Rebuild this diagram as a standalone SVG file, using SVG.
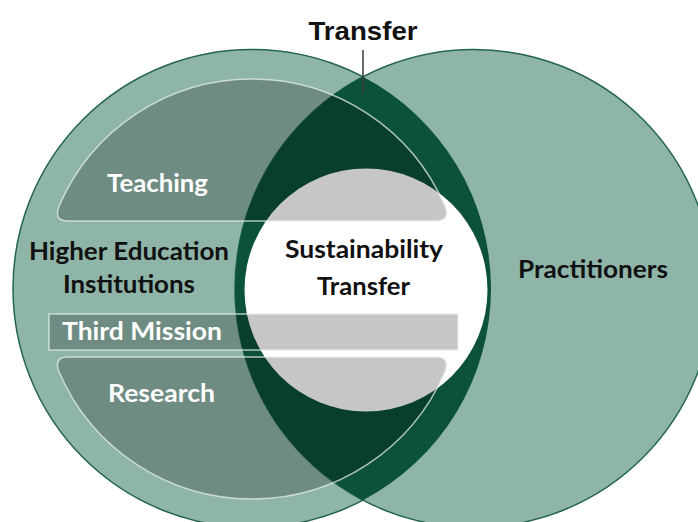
<svg xmlns="http://www.w3.org/2000/svg" width="698" height="522" viewBox="0 0 698 522">
<style>
.circ{fill:#8fb5a9;stroke:#24654f;stroke-width:1.5}
.shade{fill:#000;fill-opacity:0.225;stroke:none}
.edge{fill:none;stroke:#e6eeeb;stroke-opacity:0.75;stroke-width:1.5}
.lbl{font-family:Lato,"Open Sans","Liberation Sans",sans-serif;font-weight:bold;font-size:25px;text-anchor:middle}
.dark{fill:#111}
.light{fill:#fff}
</style>
<rect width="698" height="522" fill="#fff"/>
<g id="hei-circle"><circle class="circ" cx="252" cy="288.5" r="239"/></g>
<g id="practitioners-circle"><circle class="circ" cx="474" cy="288.5" r="239"/></g>
<g id="transfer-lens"><path d="M363,76.84 A239,239 0 0 1 363,500.16 A239,239 0 0 1 363,76.84 Z" fill="#0b513b"/></g>
<g id="sustainability-transfer"><circle cx="366" cy="290" r="121.5" fill="#fff"/></g>
<g id="teaching">
<path class="shade" d="M68,221 L436,221 Q450.7,221 444.9,206 A210,210 0 0 0 59.1,206 Q53.3,221 68,221 Z"/>
<path class="edge" d="M68,221 L436,221 Q450.7,221 444.9,206 A210,210 0 0 0 59.1,206 Q53.3,221 68,221 Z"/>
</g>
<g id="third-mission">
<rect class="shade" x="49" y="314" width="409" height="36"/>
<rect class="edge" x="49" y="314" width="409" height="36"/>
</g>
<g id="research">
<path class="shade" d="M68,357 L436,357 Q450.7,357 444.9,372 A210,210 0 0 1 59.1,372 Q53.3,357 68,357 Z"/>
<path class="edge" d="M68,357 L436,357 Q450.7,357 444.9,372 A210,210 0 0 1 59.1,372 Q53.3,357 68,357 Z"/>
</g>
<g id="connectors"><line x1="363" y1="50" x2="363" y2="93" stroke="#3a3a3a" stroke-width="1.5"/></g>
<g id="labels">
<text x="363" y="40" font-family="'Liberation Sans',Arial,sans-serif" font-weight="bold" font-size="25" text-anchor="middle" fill="#111" textLength="109" lengthAdjust="spacingAndGlyphs">Transfer</text>
<text class="lbl light" x="157.5" y="192" textLength="101" lengthAdjust="spacingAndGlyphs">Teaching</text>
<text class="lbl dark" x="129" y="260" textLength="200" lengthAdjust="spacingAndGlyphs">Higher Education</text>
<text class="lbl dark" x="129" y="293" textLength="132" lengthAdjust="spacingAndGlyphs">Institutions</text>
<text class="lbl dark" x="364" y="258" textLength="158" lengthAdjust="spacingAndGlyphs">Sustainability</text>
<text class="lbl dark" x="363.5" y="295" textLength="93" lengthAdjust="spacingAndGlyphs">Transfer</text>
<text class="lbl dark" x="593" y="278" textLength="150" lengthAdjust="spacingAndGlyphs">Practitioners</text>
<text class="lbl light" x="142" y="340" textLength="160" lengthAdjust="spacingAndGlyphs">Third Mission</text>
<text class="lbl light" x="161.5" y="402" textLength="107" lengthAdjust="spacingAndGlyphs">Research</text>
</g>
</svg>
